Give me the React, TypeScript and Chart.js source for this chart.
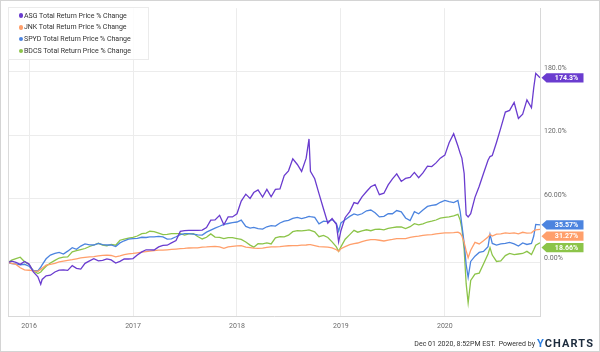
import React, { useEffect, useRef } from "react";
import { Chart, registerables } from "chart.js";

Chart.register(...registerables);

// ---------- DATA ----------
const dates: string[] = [
  // 2015
  "2015-10-19", "2015-11-01", "2015-11-16", "2015-12-01", "2015-12-16",
  // 2016
  "2016-01-01", "2016-01-16", "2016-02-01", "2016-02-11", "2016-02-16", "2016-03-01", "2016-03-16", "2016-04-01", "2016-04-16",
  "2016-05-01", "2016-05-16", "2016-06-01", "2016-06-16", "2016-07-01", "2016-07-16", "2016-08-01", "2016-08-16",
  "2016-09-01", "2016-09-16", "2016-10-01", "2016-10-16", "2016-11-01", "2016-11-16", "2016-12-01", "2016-12-16",
  // 2017
  "2017-01-01", "2017-01-16", "2017-02-01", "2017-02-16", "2017-03-01", "2017-03-16", "2017-04-01", "2017-04-16",
  "2017-05-01", "2017-05-16", "2017-06-01", "2017-06-16", "2017-07-01", "2017-07-16", "2017-08-01", "2017-08-16",
  "2017-09-01", "2017-09-16", "2017-10-01", "2017-10-16", "2017-11-01", "2017-11-16", "2017-12-01", "2017-12-16",
  // 2018
  "2018-01-01", "2018-01-16", "2018-02-01", "2018-02-16", "2018-03-01", "2018-03-16", "2018-04-01", "2018-04-16",
  "2018-05-01", "2018-05-16", "2018-06-01", "2018-06-16", "2018-07-01", "2018-07-16", "2018-08-01", "2018-08-16",
  "2018-09-01", "2018-09-11", "2018-09-16", "2018-10-01", "2018-10-16", "2018-11-01", "2018-11-16", "2018-12-01",
  "2018-12-16", "2018-12-24",
  // 2019
  "2019-01-01", "2019-01-16", "2019-02-01", "2019-02-16", "2019-03-01", "2019-03-16", "2019-04-01", "2019-04-16",
  "2019-05-01", "2019-05-16", "2019-06-01", "2019-06-16", "2019-07-01", "2019-07-16", "2019-08-01", "2019-08-16",
  "2019-09-01", "2019-09-16", "2019-10-01", "2019-10-16", "2019-11-01", "2019-11-16", "2019-12-01", "2019-12-16",
  // 2020
  "2020-01-01", "2020-01-16", "2020-02-01", "2020-02-16", "2020-02-24", "2020-03-01", "2020-03-09", "2020-03-16",
  "2020-03-23", "2020-04-01", "2020-04-16", "2020-05-01", "2020-05-16", "2020-06-01", "2020-06-08", "2020-06-16",
  "2020-07-01", "2020-07-16", "2020-08-01", "2020-08-16", "2020-09-01", "2020-09-16", "2020-10-01", "2020-10-16",
  "2020-11-01", "2020-11-09", "2020-11-16", "2020-12-01",
];

const asg: number[] = [
  0, 1.2, 0.2, -1.8, 1.0,
  -1.5, -8.8, -13.5, -20.5, -16, -12.6, -12, -9, -7.2, -7, -7.5, -3, -5.5, -6.2, -0.8, 1.5, 3.6, 1.5, 2.0, 3.4, 2.5, -0.5, 1.0, 3.4, 3.3,
  3.7, 7.0, 10, 12, 12, 11.8, 14.7, 16.2, 16.3, 18.5, 20.7, 29.3, 30, 30.3, 30.4, 30.4, 30.6, 33, 40, 40.2, 44.5, 35.5, 43, 43,
  46, 58, 64.5, 60.5, 66, 68.5, 61.8, 69, 62, 69, 69.5, 82, 86.5, 97.8, 92.5, 86, 98.5, 116.6, 86, 79, 65, 50.5, 37, 41.5, 36, 19.5,
  30, 42.5, 48, 56.5, 55.5, 62, 67, 71.5, 73.5, 64, 65.4, 73.2, 79, 83.7, 76.5, 79.3, 80.3, 85, 80, 84.5, 91, 90.5, 94, 98.5,
  101.3, 113, 121.5, 110, 103, 98.5, 84, 45, 43, 46, 61.5, 72, 84, 96.5, 100, 101, 113.5, 127, 142, 143.5, 151, 136, 140, 153.5,
  146, 165, 178.5, 174.3,
];

const jnk: number[] = [
  0, -0.8, -1.8, -5, -7,
  -7.3, -8, -8.3, -6.5, -5.5, -2.5, -1.8, -0.8, 0.5, 1.3, 2, 2.7, 3.5, 4.3, 4.8, 5.3, 5.6, 6.2, 6.8, 6.9, 6.6, 5.3, 6.2, 7.5, 8.2,
  8.6, 9.1, 9.7, 10.3, 10.7, 11.2, 11.6, 11.6, 12, 12.3, 12.7, 13, 13.3, 13.7, 13.8, 13.8, 14.5, 14.7, 15, 15.2, 14.8, 13.4, 14.8, 15.2,
  15.6, 15.9, 14.5, 14.1, 13.5, 13.3, 13.6, 14.2, 14.7, 14.7, 15, 15.4, 15.8, 15.9, 16, 16.3, 16.5, 16.8, 16.9, 16, 15, 14.7, 14.5, 13.8, 12, 10.5,
  13, 14.9, 16.8, 17.9, 18.4, 19.8, 20.8, 21.6, 21.6, 21, 20.3, 21.2, 21.8, 22.6, 22.6, 22.6, 23.8, 24.4, 24.8, 25.5, 26, 26.3, 27, 27.5,
  27.9, 27.9, 28.2, 28.7, 27.5, 25, 19, 11, 4.5, 11.6, 19, 17.5, 20.5, 24, 26.5, 25, 26.8, 27, 28, 27.5, 28, 27, 28.5, 27.8,
  28, 30, 30.8, 31.27,
];

const spyd: number[] = [
  0, -1, -1.4, -2.3, -1.7,
  -3.5, -7.5, -8, -4.5, -2.3, 3.5, 7, 8.5, 9.5, 8, 10.7, 14, 12.5, 15.5, 17.5, 16.6, 16.5, 18, 16.8, 16.5, 16.5, 15, 18.5, 20.5, 22,
  22.6, 22.8, 23.8, 23.6, 24.1, 24.1, 24.6, 24.1, 22, 22.3, 24.3, 26.3, 27.3, 27.2, 26.7, 26, 25.8, 28.6, 30.5, 32.5, 34.2, 36, 36.8, 37.6,
  38.2, 40, 34, 32.5, 33.2, 32, 31.5, 33.7, 34.8, 34.3, 37.3, 39, 39.8, 41.6, 42.6, 41.5, 42.5, 43.5, 43.2, 42.5, 36.5, 39, 38.5, 40.5, 37, 29.5,
  37.3, 40.3, 43.5, 45.8, 44.8, 46, 48.8, 49.5, 47, 43, 43.6, 46, 46, 49, 47.8, 42, 39.5, 48, 46, 49.5, 52.9, 54, 54.5, 56.8,
  58.6, 57.5, 56.5, 58.5, 48, 35, 18, -2, -14, 1, 6, 9.5, 10.5, 15, 26.5, 18, 16.5, 17.6, 18, 19, 17.5, 15.5, 18.5, 17,
  18, 25, 36, 35.57,
];

const bdcs: number[] = [
  0, 2.2, 3.6, 5, 0.8,
  -1.8, -7.8, -10.5, -9, -7.3, -3.5, -0.5, 2, 4.2, 5, 5.2, 10, 11.1, 12.2, 13.2, 15.1, 16.5, 18.1, 16.5, 15.8, 17, 16.3, 21, 22.1, 22.9,
  23.7, 25, 27.2, 27.8, 29.5, 29.2, 27.7, 26.3, 26.5, 27.3, 27.3, 27.3, 25.8, 27, 27.3, 24.5, 22.2, 23.8, 27, 24, 23.8, 22.6, 23.5, 23.5,
  22.6, 21.8, 19.3, 16.4, 14.5, 17.8, 17.5, 18.5, 17.5, 23.2, 24.4, 24.2, 25.8, 29.1, 30.1, 29.8, 30.4, 30.8, 30.4, 29, 24.4, 25.6, 23.6, 19.5, 14.7, 10.5,
  14.7, 22, 26.3, 30.3, 28.6, 29.8, 30.9, 30, 31.3, 31.5, 30.8, 32.1, 32.9, 33.5, 33.6, 32, 33.8, 36.7, 35.5, 36.5, 38.2, 39, 40.1, 41.8,
  42.6, 43, 44, 45.5, 40, 32, 12, -20, -38, -17, -11, -10, -1.5, 8, 14, 7, 1, 1.5, 6.5, 8.5, 7.5, 8, 8.5, 10.5,
  7.5, 12, 16.3, 18.66,
];

const seriesNames: string[] = [
  "ASG Total Return Price % Change",
  "JNK Total Return Price % Change",
  "SPYD Total Return Price % Change",
  "BDCS Total Return Price % Change",
];
const seriesValues: number[][] = [asg, jnk, spyd, bdcs];
const seriesColors: string[] = ["#6a3ccf", "#ff9f6b", "#4c84df", "#8cc449"];

const yearTicks: number[] = [2016, 2017, 2018, 2019, 2020];
const yTicks: number[] = [0, 60, 120, 180];
const yTickLabels: string[] = ["0.00%", "60.00%", "120.0%", "180.0%"];
const yMin = -50.5;
const yMax = 240;

const footerStamp = "Dec 01 2020, 8:52PM EST.";

// ---------- HELPERS ----------
function toYear(s: string): number {
  const [y, m, d] = s.split("-").map(Number);
  const start = Date.UTC(y, 0, 1);
  const end = Date.UTC(y + 1, 0, 1);
  return y + (Date.UTC(y, m - 1, d) - start) / (end - start);
}

const FONT = "Roboto, 'Noto Sans', sans-serif";

const overlayPlugin = {
  id: "overlayPlugin",
  afterDraw(chart: any) {
    const { ctx, chartArea, scales } = chart;
    ctx.save();
    // left border of plot
    ctx.strokeStyle = "#dadada";
    ctx.lineWidth = 1;
    ctx.beginPath();
    ctx.moveTo(Math.round(chartArea.left) + 0.5, chartArea.top);
    ctx.lineTo(Math.round(chartArea.left) + 0.5, chartArea.bottom);
    ctx.stroke();

    // end-value tags
    const items = chart.data.datasets.map((ds: any) => {
      const last = ds.data[ds.data.length - 1];
      return { y: scales.y.getPixelForValue(last.y), value: last.y as number, color: ds.borderColor as string };
    });
    items.sort((a: any, b: any) => a.y - b.y);
    const gap = 11.4;
    for (let i = 1; i < items.length; i++) {
      if (items[i].y < items[i - 1].y + gap) items[i].y = items[i - 1].y + gap;
    }
    const tip = chartArea.right + 1.5;
    const bodyL = tip + 5;
    const bodyR = tip + 42;
    const h = 4.6;
    ctx.font = `bold 7px ${FONT}`;
    ctx.textAlign = "center";
    ctx.textBaseline = "middle";
    for (const it of items) {
      ctx.fillStyle = it.color;
      ctx.beginPath();
      ctx.moveTo(tip, it.y);
      ctx.lineTo(bodyL, it.y - h);
      ctx.lineTo(bodyR, it.y - h);
      ctx.lineTo(bodyR, it.y + h);
      ctx.lineTo(bodyL, it.y + h);
      ctx.closePath();
      ctx.fill();
      ctx.fillStyle = "#ffffff";
      ctx.fillText(it.value.toPrecision(4) + "%", (bodyL + bodyR) / 2 + 1.5, it.y + 0.5);
    }
    ctx.restore();
  },
};

export default function App() {
  const canvasRef = useRef<HTMLCanvasElement | null>(null);

  useEffect(() => {
    if (!canvasRef.current) return;
    const xs = dates.map(toYear);
    const chart = new Chart(canvasRef.current, {
      type: "line",
      data: {
        datasets: seriesNames.map((name, i) => ({
          label: name,
          data: xs.map((x, j) => ({ x, y: seriesValues[i][j] })),
          borderColor: seriesColors[i],
          backgroundColor: seriesColors[i],
          borderWidth: 1.3,
          pointRadius: 0,
          tension: 0,
          fill: false,
        })),
      },
      options: {
        responsive: false,
        animation: false,
        devicePixelRatio: 1,
        layout: { padding: { left: 8, top: 7, right: 0, bottom: 0 } },
        plugins: { legend: { display: false }, tooltip: { enabled: false } },
        scales: {
          x: {
            type: "linear",
            position: "bottom",
            min: xs[0],
            max: xs[xs.length - 1],
            afterBuildTicks: (axis: any) => {
              axis.ticks = yearTicks.map((v) => ({ value: v }));
            },
            afterFit: (axis: any) => {
              axis.height = 36;
            },
            grid: { color: "#ececec", drawTicks: false, lineWidth: 1 },
            border: { display: true, color: "#d8d8d8" },
            ticks: {
              autoSkip: false,
              maxRotation: 0,
              padding: 6,
              color: "#6b6b6b",
              font: { family: FONT, size: 7 },
              callback: (v: any) => String(v),
            },
          },
          y: {
            type: "linear",
            position: "right",
            min: yMin,
            max: yMax,
            afterBuildTicks: (axis: any) => {
              axis.ticks = yTicks.map((v) => ({ value: v }));
            },
            afterFit: (axis: any) => {
              axis.width = 60;
            },
            grid: { color: "#ececec", drawTicks: false, lineWidth: 1 },
            border: { display: true, color: "#d8d8d8" },
            ticks: {
              padding: 4,
              labelOffset: -4,
              color: "#6b6b6b",
              font: { family: FONT, size: 7 },
              callback: (v: any) => {
                const idx = yTicks.indexOf(Number(v));
                return idx >= 0 ? yTickLabels[idx] : "";
              },
            },
          },
        },
      },
      plugins: [overlayPlugin],
    } as any);
    return () => chart.destroy();
  }, []);

  return (
    <div
      style={{
        position: "fixed",
        left: 0,
        top: 0,
        width: 600,
        height: 352,
        background: "#ffffff",
        fontFamily: FONT,
        overflow: "hidden",
      }}
    >
      <canvas
        ref={canvasRef}
        width={600}
        height={352}
        style={{ position: "absolute", left: 0, top: 0, width: 600, height: 352 }}
      />
      {/* outer frame */}
      <div
        style={{
          position: "absolute",
          left: 0,
          top: 0,
          width: 600,
          height: 352,
          boxSizing: "border-box",
          border: "1px solid #d4d4d4",
          pointerEvents: "none",
        }}
      />
      {/* legend */}
      <div
        style={{
          position: "absolute",
          left: 8,
          top: 7,
          width: 141,
          height: 53,
          boxSizing: "border-box",
          background: "rgba(255,255,255,0.85)",
          border: "1px solid #ebebeb",
        }}
      />
      {seriesNames.map((name, i) => (
        <div
          key={name}
          style={{
            position: "absolute",
            left: 18.5,
            top: 10.5 + i * 11.8,
            height: 10,
            display: "flex",
            alignItems: "center",
            whiteSpace: "nowrap",
            fontSize: 7,
            lineHeight: "10px",
            color: "#333333",
          }}
        >
          <span
            style={{
              display: "inline-block",
              width: 4.5,
              height: 4.5,
              borderRadius: "50%",
              background: seriesColors[i],
              marginRight: 1,
            }}
          />
          <span>{name}</span>
        </div>
      ))}
      {/* footer */}
      <div
        style={{
          position: "absolute",
          right: 6,
          top: 337,
          height: 13,
          display: "flex",
          alignItems: "center",
          whiteSpace: "nowrap",
        }}
      >
        <span style={{ fontSize: 7, color: "#333333" }}>{footerStamp}</span>
        <span style={{ fontSize: 7, color: "#333333", marginLeft: 3 }}>Powered by</span>
        <span
          style={{
            fontSize: 11,
            fontWeight: 700,
            letterSpacing: 1.1,
            marginLeft: 2,
            color: "#1c2b3d",
          }}
        >
          <span style={{ color: "#2b7fe3" }}>Y</span>CHARTS
        </span>
      </div>
    </div>
  );
}
